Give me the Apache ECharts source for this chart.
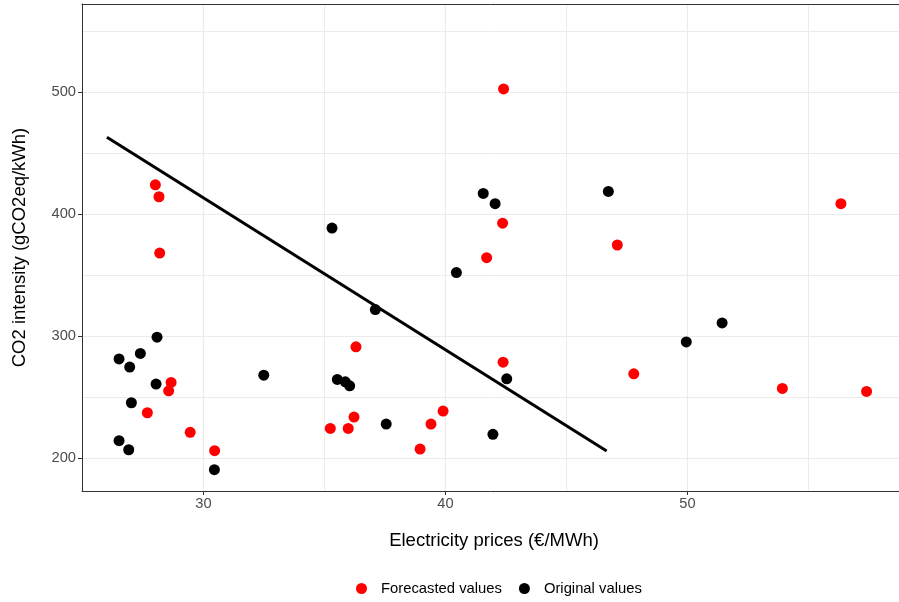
<!DOCTYPE html>
<html>
<head>
<meta charset="utf-8">
<script src="https://cdn.jsdelivr.net/npm/echarts@6/dist/echarts.min.js"></script>
<style>
  html, body { margin: 0; padding: 0; background: #ffffff; }
  #chart { width: 899px; height: 602px; }
</style>
</head>
<body>
<div id="chart"></div>
<script>
// Electricity price (€/MWh) vs CO2 intensity (gCO2eq/kWh)
const forecastPrice = [28.01, 28.16, 28.19, 28.66, 28.56, 27.68, 29.45, 30.46, 36.30, 36.22, 35.24, 35.98,
                       39.40, 38.95, 39.90, 41.70, 42.38, 42.40, 42.36, 47.10, 56.34, 47.78, 53.92, 57.40];
const forecastCO2   = [424.0, 414.2, 368.1, 262.1, 255.3, 237.3, 221.3, 206.2, 291.3, 233.8, 224.5, 224.5,
                       228.0, 207.6, 238.7, 364.3, 278.7, 502.5, 392.6, 374.7, 408.5, 269.2, 257.2, 254.8];

const originalPrice = [35.31, 28.08, 26.51, 27.39, 26.95, 28.04, 32.49, 27.02, 26.51, 26.91, 30.45, 37.10,
                       35.53, 35.86, 36.04, 37.55, 40.45, 42.53, 41.96, 41.56, 42.05, 46.73, 51.43, 49.95];
const originalCO2   = [388.6, 299.2, 281.4, 285.9, 274.7, 260.8, 268.1, 245.5, 214.4, 207.0, 190.7, 321.8,
                       264.6, 262.6, 259.4, 228.0, 352.1, 265.1, 219.6, 416.9, 408.5, 418.6, 310.9, 295.3];

// Fitted trend line end points
const trendPrice = [26.01, 46.66];
const trendCO2   = [463.0, 206.0];

// Tick labels
const xTicks = [30, 40, 50];
const yTicks = [200, 300, 400, 500];

const pairs = (xs, ys) => xs.map((x, i) => [x, ys[i]]);

const FONT = '"Liberation Sans", Arial, Helvetica, sans-serif';
const BORDER = { color: '#333333', width: 1 };
const chart = echarts.init(document.getElementById('chart'), null, { renderer: 'canvas' });

chart.setOption({
  animation: false,
  backgroundColor: '#ffffff',
  grid: { left: 82, top: 4, right: 0, bottom: 111, show: false },
  xAxis: [
    {
      type: 'value',
      min: 24.979, max: 58.74,
      minInterval: 10, maxInterval: 10,
      name: 'Electricity prices (€/MWh)',
      nameLocation: 'middle',
      nameGap: 40,
      nameTextStyle: { fontFamily: FONT, fontSize: 18.5, color: '#000000', padding: [0, 0, 0, 7] },
      axisLine: { show: true, onZero: false, lineStyle: BORDER },
      axisTick: { show: true, length: 4, customValues: xTicks, lineStyle: { color: '#333333' } },
      axisLabel: {
        customValues: xTicks, margin: 5,
        fontFamily: FONT, fontSize: 14.7, color: '#4d4d4d'
      },
      splitLine: { show: true, lineStyle: { color: '#ebebeb', width: 1.2 } },
      minorTick: { show: false, splitNumber: 2 },
      minorSplitLine: { show: true, lineStyle: { color: '#ebebeb', width: 1 } }
    },
    {
      // top panel edge
      type: 'value', position: 'top',
      min: 24.979, max: 58.74,
      axisLine: { show: true, onZero: false, lineStyle: BORDER },
      axisTick: { show: false }, axisLabel: { show: false },
      splitLine: { show: false }
    }
  ],
  yAxis: {
    type: 'value',
    min: 173.22, max: 572.07,
    minInterval: 100, maxInterval: 100,
    name: 'CO2 intensity (gCO2eq/kWh)',
    nameLocation: 'middle',
    nameGap: 53,
    nameTextStyle: { fontFamily: FONT, fontSize: 18.5, color: '#000000' },
    axisLine: { show: true, onZero: false, lineStyle: BORDER },
    axisTick: { show: true, length: 4, customValues: yTicks, lineStyle: { color: '#333333' } },
    axisLabel: {
      customValues: yTicks, margin: 6,
      fontFamily: FONT, fontSize: 14.7, color: '#4d4d4d'
    },
    splitLine: { show: true, lineStyle: { color: '#ebebeb', width: 1.2 } },
    minorTick: { show: false, splitNumber: 2 },
    minorSplitLine: { show: true, lineStyle: { color: '#ebebeb', width: 1 } }
  },
  legend: {
    left: 351, top: 576,
    itemWidth: 11, itemHeight: 11, itemGap: 17,
    icon: 'circle',
    data: ['Forecasted values', 'Original values'],
    textStyle: { fontFamily: FONT, fontSize: 14.8, color: '#000000', padding: [0, 0, 0, 9] }
  },
  series: [
    {
      name: 'Forecasted values',
      type: 'scatter',
      symbol: 'circle',
      symbolSize: 11,
      itemStyle: { color: '#ff0000', opacity: 1 },
      data: pairs(forecastPrice, forecastCO2),
      z: 3
    },
    {
      name: 'Original values',
      type: 'scatter',
      symbol: 'circle',
      symbolSize: 11,
      itemStyle: { color: '#000000', opacity: 1 },
      data: pairs(originalPrice, originalCO2),
      z: 3
    },
    {
      name: 'trend',
      type: 'line',
      showSymbol: false,
      symbol: 'none',
      lineStyle: { color: '#000000', width: 3 },
      data: pairs(trendPrice, trendCO2),
      z: 4,
      silent: true
    }
  ]
});
</script>
</body>
</html>
